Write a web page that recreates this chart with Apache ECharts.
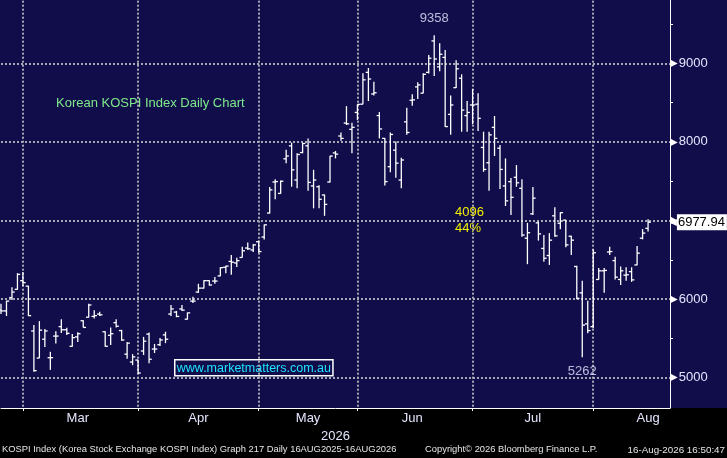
<!DOCTYPE html>
<html>
<head>
<meta charset="utf-8">
<script src="https://cdn.jsdelivr.net/npm/echarts@6.0.0/dist/echarts.min.js"></script>
<style>
  html, body { margin: 0; padding: 0; background: #000; }
  #main-chart {
    width: 727px;
    height: 458px;
    background: linear-gradient(#100d4a 0, #100d4a 408px, #000 408px, #000 100%);
  }
</style>
</head>
<body>
<div id="main-chart"></div>
<script>
// trading calendar: weekdays from the start date, minus market holidays
const startDate = "2026-02-23";
const holidays = ["2026-03-02", "2026-05-01", "2026-05-05", "2026-05-25", "2026-06-03", "2026-07-17"];
const emptyDaysAfter = 4;
const monthNames = ["Jan", "Feb", "Mar", "Apr", "May", "Jun", "Jul", "Aug", "Sep", "Oct", "Nov", "Dec"];

// daily OHLC bars
const opens = [
  5860, 5850, 6020, 6125, 6235, 6165, 5595, 5250, 5490, 5255,
  5530, 5650, 5610, 5400, 5520, 5725, 5770, 5780, 5810, 5585,
  5540, 5700, 5600, 5300, 5200, 5225, 5340, 5555, 5365, 5420,
  5545, 5810, 5835, 5875, 5745, 5975, 6090, 6140, 6235, 6230,
  6295, 6405, 6480, 6460, 6530, 6650, 6625, 6730, 6790, 7095,
  7490, 7345, 7785, 7950, 7515, 7865, 7950, 7440, 7430, 7325,
  7490, 7860, 8075, 8240, 8160, 8375, 8480, 8885, 8610, 8335,
  8045, 7685, 7895, 7515, 8255, 8530, 8700, 8620, 8885, 9285,
  8955, 9075, 8350, 8690, 8810, 8335, 8470, 8480, 7930, 7735,
  8185, 7920, 7440, 7495, 7550, 7410, 6775, 7085, 6970, 6645,
  6555, 7060, 6965, 7005, 6800, 6415, 6080, 5685, 5650, 6250,
  6360, 6600, 6490, 6250, 6305, 6350, 6435, 6775, 6900
];
const highs = [
  5940, 5980, 6150, 6330, 6345, 6170, 5670, 5720, 5620, 5330,
  5590, 5745, 5635, 5555, 5580, 5730, 5940, 5860, 5840, 5590,
  5640, 5745, 5610, 5455, 5300, 5230, 5520, 5575, 5430, 5505,
  5585, 5925, 5850, 5925, 5830, 6030, 6195, 6240, 6240, 6280,
  6405, 6425, 6560, 6525, 6665, 6720, 6700, 6745, 6950, 7425,
  7525, 7510, 7900, 7990, 7855, 7985, 8045, 7645, 7450, 7330,
  7825, 7885, 8120, 8455, 8245, 8480, 8875, 8940, 8765, 8380,
  8050, 8120, 8005, 7800, 8435, 8605, 8760, 8875, 9105, 9358,
  9255, 9170, 8590, 9040, 8860, 8520, 8675, 8620, 8130, 8130,
  8330, 7960, 7790, 7540, 7705, 7525, 6970, 7425, 6985, 6815,
  6840, 7170, 7105, 7010, 6805, 6425, 6235, 5980, 6635, 6395,
  6395, 6665, 6540, 6415, 6405, 6405, 6675, 6890, 7015
];
const lows = [
  5810, 5785, 5990, 6120, 6165, 5785, 5075, 5250, 5390, 5100,
  5435, 5570, 5545, 5395, 5455, 5640, 5765, 5755, 5785, 5395,
  5415, 5640, 5470, 5240, 5160, 5050, 5290, 5185, 5315, 5405,
  5440, 5785, 5770, 5850, 5740, 5950, 6080, 6135, 6170, 6195,
  6290, 6330, 6310, 6410, 6530, 6625, 6600, 6590, 6760, 7090,
  7270, 7340, 7730, 7430, 7410, 7855, 7380, 7155, 7155, 7060,
  7485, 7790, 8015, 8215, 7855, 8280, 8478, 8520, 8590, 8045,
  7445, 7615, 7545, 7410, 8090, 8460, 8545, 8618, 8870, 8840,
  8900, 8190, 8090, 8685, 8130, 8130, 8225, 8140, 7620, 7380,
  7820, 7400, 7185, 7070, 7430, 6795, 6445, 7070, 6745, 6475,
  6435, 6795, 6890, 6660, 6560, 6000, 5262, 5565, 5630, 6245,
  6080, 6560, 6250, 6180, 6235, 6220, 6430, 6760, 6860
];
const closes = [
  5850, 5975, 6090, 6315, 6210, 5790, 5090, 5605, 5595, 5255,
  5530, 5610, 5565, 5510, 5560, 5640, 5925, 5790, 5800, 5400,
  5560, 5655, 5480, 5440, 5265, 5060, 5465, 5235, 5365, 5480,
  5490, 5875, 5780, 5860, 5825, 5975, 6140, 6235, 6180, 6230,
  6400, 6420, 6470, 6490, 6615, 6640, 6690, 6605, 6945, 7390,
  7495, 7500, 7820, 7645, 7840, 7980, 7485, 7515, 7270, 7205,
  7820, 7845, 8045, 8230, 8185, 8478, 8790, 8800, 8625, 8165,
  7495, 8095, 7730, 7770, 8120, 8535, 8725, 8860, 9065, 9055,
  9115, 8195, 8470, 8930, 8405, 8375, 8470, 8300, 7650, 8090,
  8045, 7650, 7250, 7295, 7480, 6815, 6845, 7285, 6830, 6520,
  6750, 6805, 7100, 6690, 6750, 6010, 5670, 5600, 6590, 6360,
  6365, 6605, 6280, 6360, 6310, 6245, 6585, 6840, 6977.94
];

const chartTitle = "Korean KOSPI Index Daily Chart";
const siteUrl = "www.marketmatters.com.au";
const yearLabel = "2026";
const footerLeft = "KOSPI Index (Korea Stock Exchange KOSPI Index) Graph 217 Daily 16AUG2025-16AUG2026";
const footerMid = "Copyright\u00a9 2026 Bloomberg Finance L.P.";
const footerRight = "16-Aug-2026 16:50:47";

const FONT = "Liberation Sans, Arial, sans-serif";
const GRID_COLOR = "#a8a8b4";
const LABEL_COLOR = "#e4e6ff";

function tradingDays(start, count) {
  const out = [];
  const d = new Date(start + "T00:00:00Z");
  while (out.length < count) {
    const s = d.toISOString().slice(0, 10);
    const wd = d.getUTCDay();
    if (wd !== 0 && wd !== 6 && !holidays.includes(s)) out.push(s);
    d.setUTCDate(d.getUTCDate() + 1);
  }
  return out;
}

const dates = tradingDays(startDate, opens.length + emptyDaysAfter);
const monthOf = (s) => Number(s.slice(5, 7)) - 1;

// last trading day of each month carries the grid line
const monthEnds = [];
for (let i = 0; i < opens.length - 1; i++) {
  if (monthOf(dates[i]) !== monthOf(dates[i + 1])) monthEnds.push(i);
}
const labelIdx = monthEnds.map((e, k) => {
  const next = k + 1 < monthEnds.length ? monthEnds[k + 1] : e + 20;
  return Math.floor((e + next) / 2);
});

const bars = opens.map((o, i) => [i, o, highs[i], lows[i], closes[i]]);

let peakIdx = 0;
highs.forEach((h, i) => { if (h > highs[peakIdx]) peakIdx = i; });
let troughIdx = peakIdx;
for (let i = peakIdx; i < lows.length; i++) if (lows[i] < lows[troughIdx]) troughIdx = i;
const fall = highs[peakIdx] - lows[troughIdx];
const fallPct = Math.round((fall / highs[peakIdx]) * 100);

function renderBar(params, api) {
  const i = api.value(0);
  const pO = api.coord([i, api.value(1)]);
  const pH = api.coord([i, api.value(2)]);
  const pL = api.coord([i, api.value(3)]);
  const pC = api.coord([i, api.value(4)]);
  const half = api.size([1, 0])[0] * 0.5;
  const style = { stroke: "#ffffff", lineWidth: 1.3 };
  return {
    type: "group",
    children: [
      { type: "line", shape: { x1: pH[0], y1: pH[1], x2: pL[0], y2: pL[1] }, style },
      { type: "line", shape: { x1: pO[0] - half, y1: pO[1], x2: pO[0], y2: pO[1] }, style },
      { type: "line", shape: { x1: pC[0], y1: pC[1], x2: pC[0] + half, y2: pC[1] }, style }
    ]
  };
}

const chart = echarts.init(document.getElementById("main-chart"));

chart.setOption({
  animation: false,
  backgroundColor: "transparent",
  textStyle: { fontFamily: FONT },
  grid: { left: 1, right: 57, top: -15.3, bottom: 50, containLabel: false, outerBoundsMode: "none" },
  xAxis: {
    type: "category",
    data: dates,
    boundaryGap: false,
    axisLine: { lineStyle: { color: "#ffffff", width: 1 } },
    axisTick: { interval: (i) => monthEnds.includes(i), length: 3, lineStyle: { color: "#ffffff" } },
    axisLabel: {
      interval: (i) => labelIdx.includes(i),
      formatter: (v) => monthNames[monthOf(v)],
      color: LABEL_COLOR,
      fontSize: 13,
      fontFamily: FONT,
      margin: 4
    },
    splitLine: {
      show: true,
      interval: (i) => monthEnds.includes(i),
      lineStyle: { color: GRID_COLOR, width: 2, type: [2, 2] }
    },
    name: yearLabel,
    nameLocation: "middle",
    nameGap: 19,
    nameTextStyle: { color: LABEL_COLOR, fontSize: 13, fontFamily: FONT }
  },
  yAxis: {
    type: "value",
    position: "right",
    min: 4615,
    max: 10000,
    axisLine: { show: true, lineStyle: { color: "#ffffff", width: 1 } },
    axisTick: { show: false },
    minorTick: { show: true, splitNumber: 2, length: 3, lineStyle: { color: "#ffffff" } },
    axisLabel: {
      showMinLabel: false,
      showMaxLabel: false,
      margin: 0,
      formatter: (v) => "{a|\u25B6}{b|" + v + "}",
      rich: {
        a: { color: "#ffffff", fontSize: 10, fontFamily: "DejaVu Sans" },
        b: { color: LABEL_COLOR, fontSize: 13, fontFamily: FONT, padding: [0, 0, 0, 1] }
      }
    },
    splitLine: {
      show: true,
      showMinLine: false,
      showMaxLine: false,
      lineStyle: { color: GRID_COLOR, width: 2, type: [2, 2] }
    }
  },
  series: [
    {
      type: "custom",
      renderItem: renderBar,
      data: bars,
      encode: { x: 0, y: [1, 2, 3, 4] },
      z: 3,
      markLine: {
        silent: true,
        symbol: "none",
        z: 10,
        data: [{ yAxis: closes[closes.length - 1] }],
        lineStyle: { color: "rgba(0,0,0,0)", width: 0, type: "solid" },
        label: {
          show: true,
          position: "end",
          distance: 0,
          formatter: (p) => "{a|\u25C0}{b|" + Number(p.value).toFixed(2) + "}",
          rich: {
            a: { color: "#ffffff", fontSize: 9, fontFamily: "DejaVu Sans" },
            b: {
              color: "#000000",
              backgroundColor: "#ffffff",
              fontSize: 13,
              fontFamily: FONT,
              padding: [2, 2, 1, 1]
            }
          }
        }
      }
    },
    {
      type: "scatter",
      symbolSize: 0,
      silent: true,
      z: 4,
      data: [
        { value: [peakIdx, highs[peakIdx]], label: { position: "top", distance: 10 } },
        { value: [troughIdx, lows[troughIdx]], label: { position: "bottom", distance: 8 } }
      ],
      label: {
        show: true,
        formatter: (p) => String(p.value[1]),
        color: LABEL_COLOR,
        fontSize: 13,
        fontFamily: FONT
      }
    }
  ],
  graphic: [
    {
      type: "text", left: 56, top: 97,
      style: { text: chartTitle, fill: "#7fe98a", font: "13px " + FONT }
    },
    {
      type: "text", left: 455, top: 204,
      style: { text: fall + "\n" + fallPct + "%", fill: "#f2f000", font: "13px " + FONT, lineHeight: 16 }
    },
    {
      type: "text", left: 174, top: 359,
      style: {
        text: siteUrl, fill: "#1fe3ff", font: "12.5px " + FONT,
        borderColor: "#ffffff", borderWidth: 1.5, padding: [2, 2, 1, 2]
      }
    },
    {
      type: "text", left: 2, top: 445,
      style: { text: footerLeft, fill: "#e6e6e6", font: "9.4px " + FONT }
    },
    {
      type: "text", left: 425, top: 445,
      style: { text: footerMid, fill: "#e6e6e6", font: "9.4px " + FONT }
    },
    {
      type: "text", right: 2, top: 445,
      style: { text: footerRight, fill: "#e6e6e6", font: "9.8px " + FONT }
    }
  ]
});

window.addEventListener("resize", () => chart.resize());
</script>
</body>
</html>
